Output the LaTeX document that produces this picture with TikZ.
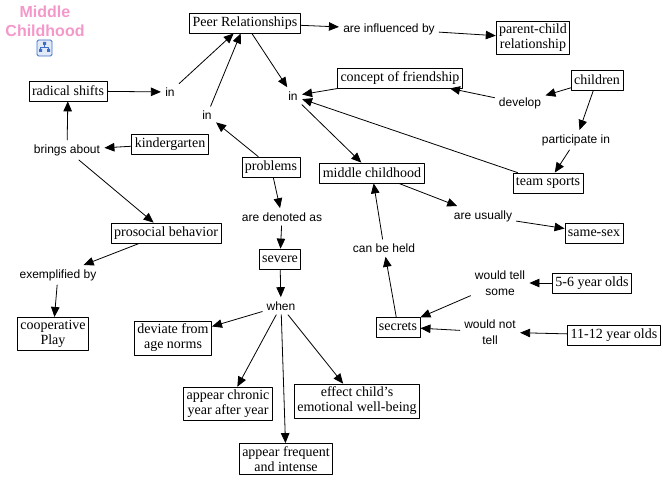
\documentclass[tikz,border=0pt]{standalone}
\usepackage{fontspec}
\setmainfont{Liberation Serif}
\setsansfont{Liberation Sans}
\usetikzlibrary{arrows,arrows.meta}
\definecolor{titlepink}{RGB}{244,152,202}
\definecolor{iconblue}{RGB}{60,110,200}

\begin{document}
\begin{tikzpicture}[line cap=round,line join=round,>={Triangle[length=10pt,width=8.5pt]},x=1pt,y=-1pt,
  concept/.style={draw,line width=0.8pt,font=\fontsize{14}{15}\selectfont,inner sep=3pt,minimum height=20pt,align=center},
  link/.style={font=\sffamily\fontsize{12}{16}\selectfont,inner sep=4pt,align=center},
  every path/.style={line width=0.8pt}]
\useasboundingbox (0,0) rectangle (663,481);
% title and icon
\node[font=\sffamily\bfseries\fontsize{16}{19}\selectfont,text=titlepink,align=center] (title) at (45,21) {Middle\\Childhood};
\draw[iconblue,fill=iconblue!15,rounded corners=1.5pt] (37,40) rectangle (52,56);
\draw[iconblue,line width=0.6pt] (44.5,43) -- (44.5,47) (40.5,50) -- (40.5,47) -- (48.5,47) -- (48.5,50);
\fill[iconblue] (43,42) rectangle (46,45) (39,49) rectangle (42,52) (47,49) rectangle (50,52);
% concepts
\node[concept] (peer) at (245,23) {Peer Relationships};
\node[concept] (parent) at (533,38) {parent-child\\relationship};
\node[concept] (shifts) at (68,91) {radical shifts};
\node[concept] (friend) at (400,78) {concept of friendship};
\node[concept] (children) at (597,80) {children};
\node[concept] (kinder) at (170,144) {kindergarten};
\node[concept] (problems) at (271,167) {problems};
\node[concept] (midchild) at (372,173) {middle childhood};
\node[concept] (sports) at (548,183) {team sports};
\node[concept] (prosocial) at (166,233) {prosocial behavior};
\node[concept] (samesex) at (594,233) {same-sex};
\node[concept] (severe) at (280,259) {severe};
\node[concept] (fiveyr) at (592,283) {5-6 year olds};
\node[concept] (coop) at (53,334) {cooperative\\Play};
\node[concept] (deviate) at (173,338) {deviate from\\age norms};
\node[concept] (secrets) at (398,327) {secrets};
\node[concept] (elevenyr) at (614,335) {11-12 year olds};
\node[concept] (chronic) at (228,404) {appear chronic\\year after year};
\node[concept] (effect) at (357,401) {effect child's\\emotional well-being};
\node[concept] (frequent) at (286,459) {appear frequent\\and intense};
% linking phrases
\node[link] (infl) at (389,29) {are influenced by};
\node[link] (inA) at (170,92) {in};
\node[link] (inB) at (207,115) {in};
\node[link] (inC) at (293,96) {in};
\node[link] (develop) at (520,103) {develop};
\node[link] (partic) at (576,140) {participate in};
\node[link] (brings) at (67,150) {brings about};
\node[link] (denoted) at (282,217) {are denoted as};
\node[link] (usually) at (483,216) {are usually};
\node[link] (held) at (384,248) {can be held};
\node[link] (exempl) at (58,275) {exemplified by};
\node[link] (tell) at (500,283) {would tell\\some};
\node[link] (when) at (281,306) {when};
\node[link] (nottell) at (490,332) {would not\\tell};
% connectors
\draw[->] (shifts) -- (inA);
\draw[->] (inA) -- (peer);
\draw[->] (inB) -- (peer);
\draw[->] (problems) -- (inB);
\draw[->] (peer) -- (inC);
\draw[->] (friend) -- (inC);
\draw[->] (sports) -- (inC);
\draw[->] (inC) -- (midchild);
\draw[->] (peer) -- (infl);
\draw[->] (infl) -- (parent);
\draw[->] (children) -- (develop);
\draw[->] (develop) -- (friend);
\draw[->] (children) -- (partic);
\draw[->] (partic) -- (sports);
\draw[->] (kinder) -- (brings);
\draw[->] (brings) -- (shifts);
\draw[->] (brings) -- (prosocial);
\draw[->] (prosocial) -- (exempl);
\draw[->] (exempl) -- (coop);
\draw[->] (problems) -- (denoted);
\draw[->] (denoted) -- (severe);
\draw[->] (severe) -- (when);
\draw[->] (when) -- (deviate);
\draw[->] (when) -- (chronic);
\draw[->] (when) -- (frequent);
\draw[->] (when) -- (effect);
\draw[->] (midchild) -- (usually);
\draw[->] (usually) -- (samesex);
\draw[->] (secrets) -- (held);
\draw[->] (held) -- (midchild);
\draw[->] (fiveyr) -- (tell);
\draw[->] (tell) -- (secrets);
\draw[->] (elevenyr) -- (nottell);
\draw[->] (nottell) -- (secrets);
\end{tikzpicture}
\end{document}
